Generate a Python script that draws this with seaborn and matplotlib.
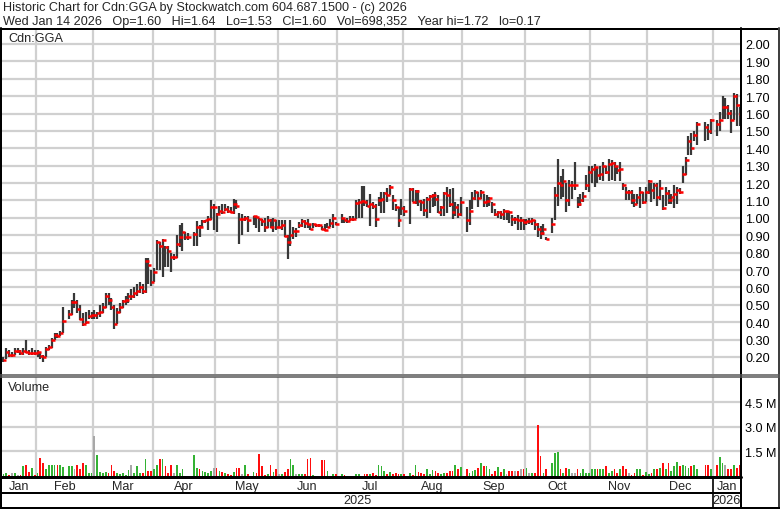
import numpy as np
import pandas as pd
import matplotlib
matplotlib.use("Agg")
import matplotlib.pyplot as plt
import seaborn as sns

# Daily bars, one line per month (trading days only)
close = [
    0.18, 0.23, 0.21, 0.21, 0.235, 0.235, 0.22, 0.235, 0.23, 0.22, 0.225, 0.22,
    0.23, 0.205, 0.20, 0.245, 0.255, 0.30, 0.325, 0.32, 0.34, 0.405, 0.445, 0.515, 0.515, 0.475, 0.42, 0.39, 0.40, 0.435, 0.44,
    0.44, 0.45, 0.46, 0.49, 0.55, 0.53, 0.49, 0.39, 0.46, 0.49, 0.52, 0.53, 0.55, 0.55, 0.57, 0.58, 0.60, 0.58, 0.75, 0.73, 0.63,
    0.69, 0.86, 0.84, 0.87, 0.83, 0.81, 0.775, 0.775, 0.85, 0.89, 0.92, 0.89, 0.89, 0.905, 0.95, 0.945, 0.98, 0.985, 0.995, 1.06, 1.06,
    1.02, 1.04, 1.035, 1.05, 1.04, 1.035, 1.08, 1.07, 0.995, 0.995, 1.00, 0.985, 1.01, 1.005, 0.995, 0.98, 0.945, 0.985, 0.945, 0.985, 0.95,
    0.95, 0.96, 0.895, 0.86, 0.90, 0.925, 0.925, 0.96, 0.98, 0.97, 0.965, 0.935, 0.965, 0.96, 0.96, 0.935, 0.93, 0.95, 0.97, 1.00, 0.965,
    1.00, 0.99, 0.98, 0.995, 0.995, 1.085, 1.09, 1.095, 1.09, 1.07, 1.08, 1.07, 0.995, 1.10, 1.11, 1.145, 1.13, 1.175, 1.105, 1.065, 0.985, 1.055,
    1.04, 1.165, 1.09, 1.155, 1.095, 1.09, 1.045, 1.11, 1.125, 1.13, 1.11, 1.035, 1.06, 1.145, 1.13, 1.08, 1.035, 1.06, 1.02, 1.09,
    0.985, 1.04, 1.115, 1.15, 1.115, 1.15, 1.09, 1.095, 1.115, 1.08, 1.02, 1.035, 1.02, 1.04, 1.04, 1.035, 0.995, 0.995, 0.985, 0.985, 0.975,
    0.98, 0.98, 0.985, 0.965, 0.935, 0.915, 0.935, 0.88, 0.965, 1.13, 1.20, 1.19, 1.21, 1.105, 1.19, 1.19, 1.19, 1.08, 1.105, 1.125, 1.19, 1.265,
    1.28, 1.29, 1.245, 1.255, 1.30, 1.265, 1.31, 1.315, 1.30, 1.275, 1.28, 1.19, 1.15, 1.15, 1.10, 1.08, 1.12, 1.15, 1.09, 1.15,
    1.21, 1.16, 1.19, 1.12, 1.17, 1.055, 1.145, 1.10, 1.12, 1.14, 1.16, 1.15, 1.255, 1.335, 1.44, 1.40, 1.475, 1.54, 1.52, 1.50, 1.56,
    1.54, 1.565, 1.64, 1.64, 1.605, 1.56, 1.70, 1.65, 1.60,
]
high = [
    0.20, 0.25, 0.24, 0.23, 0.25, 0.25, 0.24, 0.25, 0.30, 0.24, 0.25, 0.24,
    0.24, 0.23, 0.21, 0.26, 0.27, 0.31, 0.34, 0.34, 0.35, 0.49, 0.47, 0.53, 0.57, 0.53, 0.50, 0.45, 0.46, 0.47, 0.46,
    0.47, 0.46, 0.50, 0.51, 0.57, 0.57, 0.54, 0.50, 0.48, 0.51, 0.53, 0.55, 0.57, 0.59, 0.60, 0.62, 0.63, 0.62, 0.77, 0.77, 0.70,
    0.71, 0.87, 0.86, 0.88, 0.84, 0.84, 0.80, 0.79, 0.90, 0.96, 0.97, 0.92, 0.91, 0.92, 0.98, 0.96, 0.99, 0.99, 1.01, 1.10, 1.08,
    1.03, 1.07, 1.08, 1.08, 1.07, 1.06, 1.11, 1.10, 1.03, 1.02, 1.01, 1.01, 1.01, 1.01, 1.00, 0.995, 1.00, 1.01, 0.995, 1.00, 0.99,
    0.985, 0.985, 0.985, 0.90, 0.985, 0.945, 0.94, 0.975, 0.995, 0.985, 0.995, 0.965, 0.97, 0.965, 0.965, 0.955, 0.965, 0.97, 0.995, 1.02, 0.975,
    1.02, 1.00, 1.00, 1.01, 1.01, 1.10, 1.11, 1.185, 1.185, 1.10, 1.14, 1.09, 1.08, 1.12, 1.15, 1.15, 1.17, 1.19, 1.13, 1.08, 1.06, 1.11,
    1.07, 1.17, 1.17, 1.16, 1.16, 1.10, 1.11, 1.12, 1.13, 1.135, 1.15, 1.13, 1.07, 1.15, 1.18, 1.165, 1.17, 1.09, 1.08, 1.12,
    1.06, 1.10, 1.15, 1.16, 1.15, 1.16, 1.14, 1.13, 1.12, 1.09, 1.05, 1.04, 1.04, 1.05, 1.04, 1.04, 1.015, 1.005, 1.015, 1.005, 0.995,
    0.995, 1.00, 1.00, 0.99, 0.97, 0.955, 0.965, 0.89, 1.00, 1.18, 1.34, 1.24, 1.28, 1.20, 1.22, 1.21, 1.32, 1.12, 1.14, 1.15, 1.245, 1.30,
    1.30, 1.31, 1.29, 1.30, 1.32, 1.30, 1.34, 1.33, 1.32, 1.30, 1.32, 1.20, 1.18, 1.16, 1.16, 1.14, 1.14, 1.18, 1.15, 1.18,
    1.22, 1.20, 1.20, 1.20, 1.22, 1.13, 1.18, 1.16, 1.14, 1.19, 1.18, 1.17, 1.30, 1.35, 1.47, 1.49, 1.50, 1.55, 1.55, 1.54, 1.57,
    1.56, 1.61, 1.70, 1.69, 1.65, 1.62, 1.72, 1.71, 1.64,
]
low = [
    0.17, 0.19, 0.20, 0.20, 0.21, 0.22, 0.21, 0.21, 0.22, 0.21, 0.21, 0.21,
    0.20, 0.19, 0.17, 0.20, 0.24, 0.25, 0.30, 0.31, 0.32, 0.34, 0.42, 0.44, 0.48, 0.45, 0.41, 0.38, 0.39, 0.42, 0.42,
    0.42, 0.42, 0.43, 0.45, 0.48, 0.50, 0.47, 0.36, 0.39, 0.45, 0.48, 0.50, 0.51, 0.53, 0.54, 0.55, 0.57, 0.56, 0.57, 0.62, 0.61,
    0.63, 0.70, 0.70, 0.66, 0.72, 0.72, 0.69, 0.76, 0.77, 0.83, 0.81, 0.87, 0.87, 0.84, 0.84, 0.89, 0.94, 0.97, 0.93, 0.99, 0.93,
    0.92, 1.02, 1.02, 1.04, 1.03, 1.03, 1.02, 1.05, 0.85, 0.90, 0.98, 0.92, 0.96, 0.94, 0.92, 0.955, 0.92, 0.94, 0.94, 0.92, 0.93,
    0.94, 0.93, 0.89, 0.765, 0.84, 0.88, 0.89, 0.94, 0.95, 0.94, 0.94, 0.93, 0.94, 0.95, 0.95, 0.93, 0.925, 0.94, 0.95, 0.94, 0.96,
    0.97, 0.97, 0.97, 0.98, 0.98, 0.995, 1.00, 1.00, 1.07, 1.06, 0.955, 1.05, 0.945, 1.07, 1.025, 1.025, 1.09, 1.13, 1.045, 1.04, 0.945, 1.015,
    1.01, 0.965, 1.09, 1.08, 1.07, 1.04, 1.01, 1.00, 1.03, 1.06, 1.07, 1.03, 1.01, 1.01, 1.03, 1.06, 0.995, 1.01, 1.00, 1.01,
    0.92, 0.96, 1.05, 1.10, 1.06, 1.11, 1.06, 1.06, 1.07, 1.03, 1.01, 1.00, 0.995, 0.99, 0.985, 0.97, 0.955, 0.965, 0.93, 0.93, 0.93,
    0.96, 0.965, 0.96, 0.93, 0.89, 0.88, 0.90, 0.87, 0.91, 0.985, 1.07, 1.11, 1.12, 1.035, 1.07, 1.11, 1.16, 1.055, 1.07, 1.09, 1.16, 1.15,
    1.20, 1.18, 1.20, 1.22, 1.21, 1.25, 1.21, 1.22, 1.21, 1.25, 1.21, 1.16, 1.10, 1.10, 1.08, 1.06, 1.08, 1.055, 1.08, 1.09,
    1.14, 1.09, 1.11, 1.07, 1.10, 1.045, 1.07, 1.08, 1.08, 1.055, 1.08, 1.14, 1.20, 1.245, 1.36, 1.36, 1.44, 1.42, 1.44, 1.45, 1.48,
    1.47, 1.50, 1.57, 1.57, 1.57, 1.49, 1.56, 1.53, 1.53,
]
# volume in thousands of shares
volume = [
    100, 200, 50, 160, 200, 60, 60, 600, 650, 250, 500, 60,
    160, 1100, 800, 400, 700, 700, 700, 700, 650, 550, 600, 600, 400, 700, 400, 800, 700, 160, 160,
    2450, 1300, 250, 200, 250, 160, 700, 300, 200, 100, 160, 50, 370, 650, 200, 600, 200, 200, 1050, 300, 300,
    400, 700, 1050, 1050, 600, 160, 650, 160, 700, 200, 400, 30, 20, 1300, 500, 450, 300, 250, 200, 300, 500,
    500, 300, 250, 200, 100, 50, 250, 500, 500, 100, 650, 100, 250, 200, 1350, 600, 50, 150, 700, 250, 450,
    100, 150, 250, 400, 1050, 650, 150, 150, 100, 100, 1050, 1100, 50, 30, 30, 1000, 1000, 300, 30, 150, 100,
    100, 60, 20, 20, 20, 100, 100, 20, 150, 150, 150, 200, 60, 700, 600, 300, 150, 250, 100, 200, 150, 150,
    150, 200, 50, 700, 250, 200, 150, 450, 100, 350, 300, 200, 150, 200, 200, 300, 300, 700, 450, 550,
    450, 200, 300, 350, 500, 800, 600, 600, 400, 150, 300, 550, 250, 450, 150, 300, 300, 300, 300, 400, 400,
    500, 200, 200, 200, 3100, 1200, 200, 400, 800, 1400, 1450, 450, 200, 500, 400, 200, 200, 450, 200, 400, 200, 200,
    400, 400, 400, 400, 400, 600, 200, 300, 400, 200, 400, 600, 400, 200, 50, 200, 400, 450, 50, 250,
    100, 200, 400, 400, 500, 800, 400, 800, 300, 600, 850, 600, 700, 600, 500, 600, 650, 400, 700, 700, 400,
    700, 1150, 800, 650, 400, 400, 650, 500, 698,
]

first_day = "2025-01-16"
last_day = "2026-01-14"
holidays = ["2025-02-17", "2025-04-18", "2025-05-19", "2025-07-01", "2025-08-04",
            "2025-09-01", "2025-10-13", "2025-12-25", "2025-12-26", "2026-01-01"]

price_ticks = [0.2, 0.3, 0.4, 0.5, 0.6, 0.7, 0.8, 0.9, 1.0,
               1.1, 1.2, 1.3, 1.4, 1.5, 1.6, 1.7, 1.8, 1.9, 2.0]
vol_ticks = [1.5, 3.0, 4.5]
vol_labels = ["1.5 M", "3.0 M", "4.5 M"]

title1 = "Historic Chart for Cdn:GGA by Stockwatch.com 604.687.1500 - (c) 2026"
title2 = ("Wed Jan 14 2026   Op=1.60   Hi=1.64   Lo=1.53   Cl=1.60   "
          "Vol=698,352   Year hi=1.72   lo=0.17")

# every weekday gets a slot, holidays stay empty
days = pd.bdate_range(first_day, last_day)
is_open = ~days.isin(pd.to_datetime(holidays))
df = pd.DataFrame({"slot": np.flatnonzero(is_open), "high": high, "low": low,
                   "close": close, "vol": np.array(volume) / 1000})
chg = df["close"].diff().round(4)
df["move"] = np.where(chg > 0, "up", np.where(chg < 0, "down", "flat"))
df.loc[0, "move"] = "up"

idx = pd.Series(np.arange(len(days)), index=days)
by_month = idx.groupby(days.to_period("M")).agg(["min", "max"])
by_year = idx.groupby(days.year).agg(["min", "max"])
bounds = by_month["min"].values[1:] - 0.5

sns.set_theme(style="white")
plt.rcParams["font.family"] = ["Liberation Sans", "DejaVu Sans"]

W, H = 780, 510
fig = plt.figure(figsize=(W / 100, H / 100), dpi=100)


def frame(x0, y0, x1, y1):
    return [x0 / W, 1 - y1 / H, (x1 - x0) / W, (y1 - y0) / H]


ax_p = fig.add_axes(frame(2, 30, 741, 375))
ax_v = fig.add_axes(frame(2, 378, 741, 477))
ax_d = fig.add_axes(frame(2, 479, 741, 508))

grid = "#d0d0d0"
fs = 9.1
xmin, xmax = -0.5, len(days) - 0.5

# price pane
ax_p.set_ylim(0.102, 2.086)
for t in price_ticks:
    ax_p.axhline(t, color=grid, lw=1.6, zorder=0)
for b in bounds:
    ax_p.axvline(b, color=grid, lw=1.6, zorder=0)
ax_p.vlines(df["slot"], df["low"], df["high"], color="#383838", lw=1.6, zorder=2)
ax_p.hlines(df["close"], df["slot"] - 0.25, df["slot"] + 1.05, color="#ff0000", lw=1.8, zorder=3)
ax_p.yaxis.tick_right()
ax_p.set_yticks(price_ticks)
ax_p.set_yticklabels([f"{t:.2f}" for t in price_ticks])

# volume pane
sns.barplot(data=df, x="slot", y="vol", hue="move",
            palette={"up": "#33b233", "down": "#ff0d0d", "flat": "#a8a8a8"},
            native_scale=True, dodge=False, width=0.62, errorbar=None,
            legend=False, saturation=1, linewidth=0, ax=ax_v)
ax_v.set_ylim(0, 6.04)
for t in vol_ticks:
    ax_v.axhline(t, color=grid, lw=1.6, zorder=0)
for b in bounds:
    ax_v.axvline(b, color=grid, lw=1.6, zorder=0)
ax_v.yaxis.tick_right()
ax_v.set_yticks(vol_ticks)
ax_v.set_yticklabels(vol_labels)
ax_v.set_xlabel("")
ax_v.set_ylabel("")

for ax in (ax_p, ax_v, ax_d):
    ax.set_xlim(xmin, xmax)
    ax.set_xticks([])
    ax.set_facecolor("white")
    for s in ax.spines.values():
        s.set_visible(False)
    ax.tick_params(axis="y", length=0, pad=3, labelsize=fs, labelcolor="black")

# month / year strip
ax_d.set_ylim(0, 1)
ax_d.set_yticks([])
for per, row in by_month.iterrows():
    ax_d.text((row["min"] + row["max"]) / 2, 0.74, per.strftime("%b"),
              ha="center", va="center", fontsize=fs)
for yr, row in by_year.iterrows():
    ax_d.text((row["min"] + row["max"]) / 2, 0.24, str(yr),
              ha="center", va="center", fontsize=fs)
year_edge = by_year["min"].values[1] - 0.5
ax_d.axvline(year_edge, color="black", lw=1.2)

# frame lines and labels drawn in pixel space
ax_o = fig.add_axes([0, 0, 1, 1])
ax_o.set_xlim(0, W)
ax_o.set_ylim(H, 0)
ax_o.axis("off")
px = 0.72
ax_o.plot([0, W], [29.5, 29.5], color="black", lw=2 * px)
ax_o.plot([1, 1], [29, H], color="black", lw=2 * px)
ax_o.plot([W - 1.5, W - 1.5], [29, H], color="#404040", lw=2 * px)
ax_o.plot([0, W], [H - 1.5, H - 1.5], color="black", lw=2 * px)
ax_o.plot([741, 741], [29, H], color="black", lw=2 * px)
ax_o.plot([0, W], [375.5, 375.5], color="#555555", lw=1.5 * px)
ax_o.plot([0, W], [377.5, 377.5], color="#555555", lw=1.5 * px)
ax_o.plot([0, 741], [478, 478], color="black", lw=3 * px)
ax_o.plot([0, 741], [494, 494], color="black", lw=2 * px)

ax_o.text(3, 8, title1, fontsize=fs, va="center", ha="left")
ax_o.text(3, 22, title2, fontsize=fs, va="center", ha="left")
ax_o.text(8, 39, "Cdn:GGA", fontsize=fs, va="center", ha="left")
ax_o.text(8, 388, "Volume", fontsize=fs, va="center", ha="left")

fig.savefig("out.png", dpi=100, facecolor="white")
